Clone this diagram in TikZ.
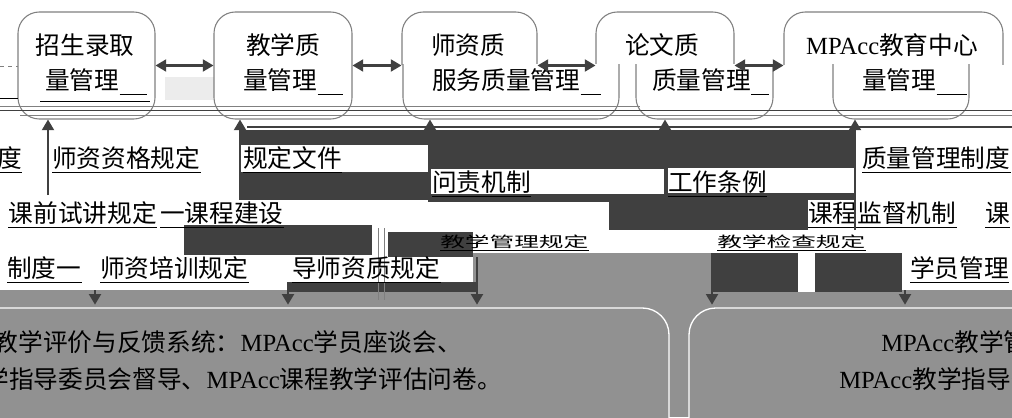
\documentclass[tikz,border=0pt]{standalone}
\usepackage{fontspec}
\setmainfont{Liberation Serif}
\newfontfamily\cjk{Noto Sans CJK SC}
\usetikzlibrary{arrows.meta}
\definecolor{darkg}{HTML}{404040}
\definecolor{lineg}{HTML}{808080}
\definecolor{panelg}{HTML}{919191}

\begin{document}
\begin{tikzpicture}[x=0.75pt,y=-0.75pt,
    box/.style={draw=lineg,line width=0.8pt,rounded corners=16pt,fill=white,minimum height=80.25pt},
    lbl/.style={font=\cjk\fontsize{18.5}{22}\selectfont,inner xsep=0pt,inner ysep=2pt},
    arr/.style={draw=darkg,line width=1.6pt,-{Triangle[width=9pt,length=8pt]}},
    dbl/.style={draw=darkg,line width=1.6pt,{Triangle[width=9pt,length=8pt]}-{Triangle[width=9pt,length=8pt]}},
    panel/.style={fill=panelg,draw=white,line width=1pt,rounded corners=20pt,minimum height=104.25pt}]
  \useasboundingbox (0,0) rectangle (1012,417);
  \clip (0,0) rectangle (1012,417);

  % grey ground and dark blocks
  \fill[panelg] (0,290) rectangle (1012,417);
  \fill[panelg] (473,253) rectangle (713,292);
  \fill[darkg] (240,130) rectangle (428,200);
  \fill[darkg] (428,130) rectangle (665,202);
  \fill[darkg] (609,200) rectangle (665,230);
  \fill[darkg] (665,130) rectangle (855,200);
  \fill[darkg] (665,200) rectangle (808,230);
  \fill[darkg] (184,225) rectangle (372,255);
  \fill[darkg] (388,232) rectangle (473,257);
  \fill[darkg] (288,282) rectangle (477,292);
  \fill[darkg] (713,253) rectangle (902,292);
  \fill[white] (240,145) rectangle (428,172);
  \fill[white] (430,169) rectangle (665,194);
  \fill[white] (668,168) rectangle (855,193);
  \fill[white] (798,253) rectangle (815,292);
  \draw[lineg] (378,228) -- (378,300) (384,228) -- (384,300);

  % rules
  \node[lbl,anchor=east] (m1) at (22,158) {制度};
  \node[lbl,anchor=west] (m2) at (52,158) {师资资格规定};
  \node[lbl,anchor=west] (m3) at (243,158) {规定文件};
  \node[lbl,anchor=west] (m4) at (432,182) {问责机制};
  \node[lbl,anchor=west] (m5) at (668,182) {工作条例};
  \node[lbl,anchor=west] (m6) at (862,158) {质量管理制度};
  \node[lbl,anchor=east] (m7) at (157,213) {课前试讲规定};
  \node[lbl,anchor=west] (m8) at (160,213) {一课程建设};
  \node[lbl,anchor=west] (m9) at (808,213) {课程监督机制};
  \node[lbl,anchor=west] (m10) at (985,213) {课};
  \node[lbl,anchor=west] (m11) at (7,268) {制度一};
  \node[lbl,anchor=west] (m12) at (100,268) {师资培训规定};
  \node[lbl,anchor=west] (m13) at (292,268) {导师资质规定};
  \node[lbl,anchor=west] (m14) at (910,268) {学员管理};
  \node[lbl,anchor=west,yscale=0.6] (m15) at (440,242) {教学管理规定};
  \node[lbl,anchor=west,yscale=0.6] (m16) at (717,242) {教学检查规定};
  \foreach \n in {m1,m2,m3,m4,m5,m6,m7,m8,m9,m10,m11,m12,m13,m14,m15,m16}
    \draw[black,thin] (\n.south west) -- (\n.south east);

  % feedback panels
  \node[panel,minimum width=524.25pt] (pl) at (319.5,377.5) {};
  \node[panel,minimum width=278.25pt] (pr) at (874.5,377.5) {};
  \node[lbl,anchor=east] (f1) at (462,342) {教学评价与反馈系统：\textrm{MPAcc}学员座谈会、};
  \node[lbl,anchor=east] (f2) at (502,379) {教学指导委员会督导、\textrm{MPAcc}课程教学评估问卷。};
  \node[lbl,anchor=west] (f3) at (881,342) {\textrm{MPAcc}教学管理系统};
  \node[lbl,anchor=west] (f4) at (839,379) {\textrm{MPAcc}教学指导委员会};

  % top boxes
  \fill[gray!15] (165,77) rectangle (214,100);
  \node[box,minimum width=102.75pt] (b1) at (86.5,65.5) {};
  \node[box,minimum width=103.5pt] (b2) at (283,65.5) {};
  \begin{scope}
    \clip (0,0) rectangle (1012,65);
    \node[box,minimum width=101.25pt] (b3u) at (469.5,65.5) {};
    \node[box,minimum width=103.5pt] (b4u) at (665,65.5) {};
    \node[box,minimum width=164.25pt] (b5u) at (893.5,65.5) {};
  \end{scope}
  \begin{scope}
    \clip (0,65) rectangle (1012,130);
    \node[box,minimum width=162pt] (b3l) at (511,65.5) {};
    \node[box,minimum width=102.75pt] (b4l) at (704.5,65.5) {};
    \node[box,minimum width=102pt] (b5l) at (901,65.5) {};
  \end{scope}
  \node[lbl] (t1a) at (85,45) {招生录取};
  \node[lbl,anchor=west] (t1b) at (45,80) {量管理};
  \node[lbl] (t2a) at (283,45) {教学质};
  \node[lbl,anchor=west] (t2b) at (243,80) {量管理};
  \node[lbl] (t3a) at (468,45) {师资质};
  \node[lbl,anchor=west] (t3b) at (432,80) {服务质量管理};
  \node[lbl] (t4a) at (662,45) {论文质};
  \node[lbl,anchor=west] (t4b) at (652,80) {质量管理};
  \node[lbl] (t5a) at (892,45) {\textrm{MPAcc}教育中心};
  \node[lbl,anchor=west] (t5b) at (862,80) {量管理};
  \draw[black,thin] (t1b.south east) -- ++(27,0);
  \draw[black,thin] (t2b.south east) -- ++(25,0);
  \draw[black,thin] (t3b.south east) -- ++(20,0);
  \draw[black,thin] (t4b.south east) -- ++(18,0);
  \draw[black,thin] (t5b.south east) -- ++(30,0);

  % stripes
  \draw[gray,dashed] (0,66) -- (18,66);
  \draw[black] (0,98) -- (18,98);
  \draw[black,thin] (40,101) -- (150,101);
  \draw[lineg] (0,106) -- (640,106);
  \draw[darkg] (0,110) -- (1012,110);
  \draw[lineg] (20,115) -- (1012,115);
  \draw[darkg,line width=1.2pt] (247,127) -- (1012,127);

  % links
  \draw[dbl] (b1.east) -- (b2.west);
  \draw[dbl] (b2.east) -- (b3u.west);
  \draw[dbl] (b3u.east) -- (b4u.west);
  \draw[dbl] (b4u.east) -- (b5u.west);

  \coordinate (u1) at (48,195);
  \coordinate (u2) at (240,200);
  \coordinate (u3) at (430,200);
  \coordinate (u4) at (665,230);
  \coordinate (u5) at (855,230);
  \draw[arr] (u1) -- (u1 |- b1.south);
  \draw[arr] (u2) -- (u2 |- b2.south);
  \draw[arr] (u3) -- (u3 |- b3l.south);
  \draw[arr] (u4) -- (u4 |- b4l.south);
  \draw[arr] (u5) -- (u5 |- b5l.south);

  \coordinate (d1) at (95,290);
  \coordinate (d2) at (288,282);
  \coordinate (d3) at (477,257);
  \coordinate (d4) at (712,253);
  \coordinate (d5) at (905,290);
  \draw[arr] (d1) -- ([yshift=2pt]d1 |- pl.north);
  \draw[arr] (d2) -- ([yshift=2pt]d2 |- pl.north);
  \draw[arr] (d3) -- ([yshift=2pt]d3 |- pl.north);
  \draw[arr] (d4) -- ([yshift=2pt]d4 |- pr.north);
  \draw[arr] (d5) -- ([yshift=2pt]d5 |- pr.north);
\end{tikzpicture}
\end{document}
